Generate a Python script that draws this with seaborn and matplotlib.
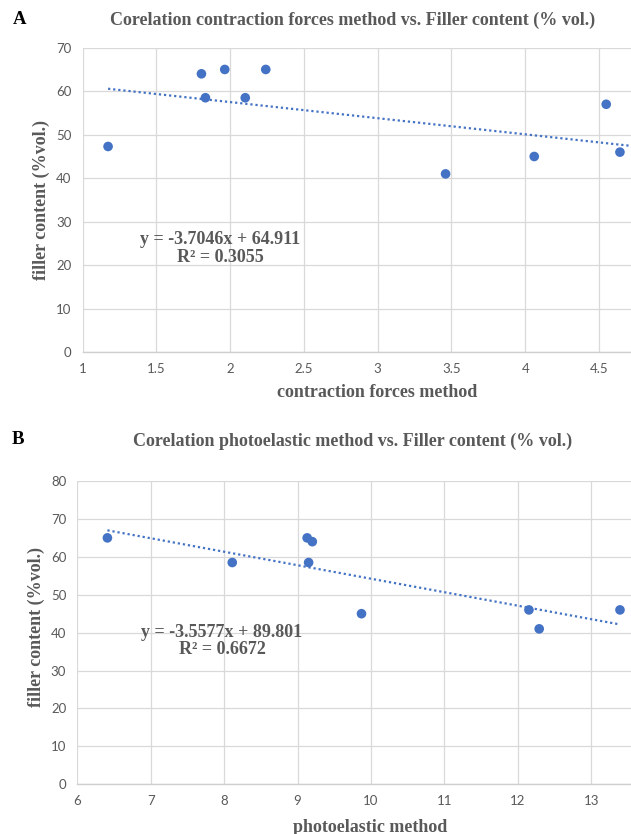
import numpy as np
import pandas as pd
import matplotlib
matplotlib.use("Agg")
import matplotlib.pyplot as plt
import seaborn as sns

# Panel A: contraction forces method vs. filler content
contraction_x = [1.172, 1.805, 1.832, 1.963, 2.102, 2.241, 3.460, 4.061, 4.549, 4.642]
contraction_y = [47.3, 64.0, 58.5, 65.0, 58.5, 65.0, 41.0, 45.0, 57.0, 46.0]
slope_a, intercept_a, r2_a = -3.7046, 64.911, 0.3055

# Panel B: photoelastic method vs. filler content
photo_x = [6.41, 8.11, 9.13, 9.20, 9.15, 9.87, 12.15, 12.29, 13.39]
photo_y = [65.0, 58.5, 65.0, 64.0, 58.5, 45.0, 46.0, 41.0, 46.0]
slope_b, intercept_b, r2_b = -3.5577, 89.801, 0.6672

ticks_a = [1, 1.5, 2, 2.5, 3, 3.5, 4, 4.5]
ticks_b = [6, 7, 8, 9, 10, 11, 12, 13]

sns.set_theme(style="white")
plt.rcParams["font.family"] = ["Lato", "DejaVu Sans"]

W, H = 631, 834
fig = plt.figure(figsize=(W / 100, H / 100), dpi=100)

BLUE = "#4472C4"
GRAY = "#595959"
GRID = "#d9d9d9"
SERIF = ["Liberation Serif", "DejaVu Serif"]


def fx(px):
    return px / W


def fy(py):
    return 1 - py / H


def panel(rect, xs, ys, slope, intercept, r2, xlim, ylim, xticks, yticks,
          x_end, eq_pos):
    ax = fig.add_axes(rect)
    df = pd.DataFrame({"x": xs, "y": ys})
    x0 = min(xs)
    trend = pd.DataFrame({"x": [x0, x_end]})
    trend["y"] = slope * trend["x"] + intercept
    sns.lineplot(data=trend, x="x", y="y", ax=ax, color=BLUE, lw=1.6,
                 linestyle=(0, (1, 1.3)), zorder=2)
    sns.scatterplot(data=df, x="x", y="y", ax=ax, color=BLUE, s=48,
                    edgecolor="none", zorder=3)
    ax.set_xlim(*xlim)
    ax.set_ylim(*ylim)
    ax.set_xticks(xticks)
    ax.set_yticks(yticks)
    ax.set_xticklabels([f"{t:g}" for t in xticks])
    ax.grid(True, color=GRID, lw=0.9)
    ax.set_axisbelow(True)
    for s in ["top", "right", "left"]:
        ax.spines[s].set_visible(False)
    ax.spines["bottom"].set_color("#cfcfcf")
    ax.spines["bottom"].set_linewidth(1.0)
    ax.tick_params(axis="both", length=0, labelsize=9.5, colors=GRAY, pad=8)
    ax.set_xlabel("")
    ax.set_ylabel("")
    sign = "-" if slope < 0 else ""
    eq = f"y = {sign}{abs(slope):.4f}x + {intercept:.3f}\nR² = {r2:.4f}"
    ax.text(eq_pos[0], eq_pos[1], eq, ha="center", va="center",
            multialignment="center", family=SERIF, weight="bold",
            fontsize=13, color=GRAY, linespacing=1.05)
    return ax


# Panel A axes
panel([fx(82.7), fy(352.3), 1 - fx(82.7), fy(47.7) - fy(352.3)],
      contraction_x, contraction_y, slope_a, intercept_a, r2_a,
      (1, 4.717), (0, 70), ticks_a, list(range(0, 71, 10)),
      4.8, (1.933, 23.9))

# Panel B axes
panel([fx(77.3), fy(784.3), 1 - fx(77.3), fy(481) - fy(784.3)],
      photo_x, photo_y, slope_b, intercept_b, r2_b,
      (6, 13.54), (0, 80), ticks_b, list(range(0, 81, 10)),
      max(photo_x), (7.97, 37.8))

# Titles, panel letters and axis labels
title_kw = dict(family=SERIF, weight="bold", color=GRAY, ha="center",
                va="center")
fig.text(fx(353), fy(20), "Corelation contraction forces method vs. Filler content (% vol.)",
         fontsize=13, **title_kw)
fig.text(fx(353), fy(441.5), "Corelation photoelastic method vs. Filler content (% vol.)",
         fontsize=13, **title_kw)
fig.text(fx(19.3), fy(19.3), "A", family=SERIF, weight="bold", fontsize=13.5,
         color="black", ha="center", va="center")
fig.text(fx(18.3), fy(439.3), "B", family=SERIF, weight="bold", fontsize=13.5,
         color="black", ha="center", va="center")

fig.text(fx(377), fy(393), "contraction forces method", fontsize=13, **title_kw)
fig.text(fx(370), fy(827), "photoelastic method", fontsize=13, **title_kw)
fig.text(fx(41.7), fy(200), "filler content (%vol.)", rotation=90,
         fontsize=13, **title_kw)
fig.text(fx(36.7), fy(627), "filler content (%vol.)", rotation=90,
         fontsize=13, **title_kw)

fig.savefig("out.png", dpi=100, facecolor="white")
